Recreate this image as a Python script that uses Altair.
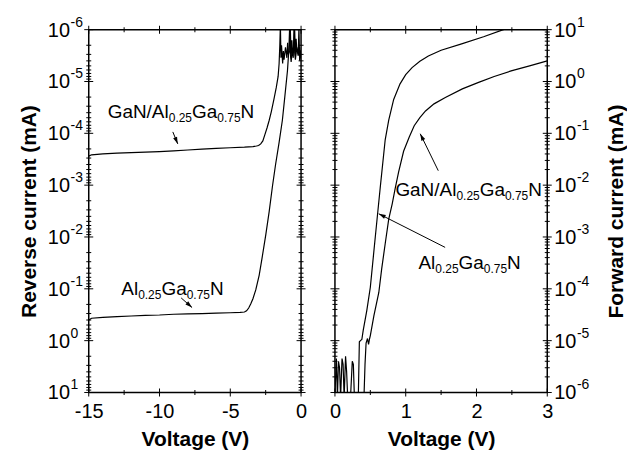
import math
import altair as alt
import pandas as pd

FONT = "Liberation Sans"
W, H = 213, 364

# ---------------- data ----------------
# Left panel: reverse bias
rev_gan_v = [-15.0, -14.8, -14.0, -13.0, -12.0, -11.0, -10.0, -9.0, -8.0, -7.0, -6.0, -5.0, -4.0, -3.4,
             -3.15, -3.0, -2.85, -2.7, -2.55, -2.4, -2.25, -2.1, -1.9, -1.75, -1.62, -1.55, -1.5, -1.46,
             -1.42, -1.38, -1.3, -1.25, -1.2, -1.1, -1.0, -0.95, -0.9, -0.8, -0.76, -0.7, -0.65, -0.6,
             -0.5, -0.45, -0.4, -0.35, -0.3, -0.2, -0.1, -0.05, 0.0]
rev_gan_i = [2.75e-4, 2.6e-4, 2.5e-4, 2.42e-4, 2.36e-4, 2.3e-4, 2.25e-4, 2.18e-4, 2.1e-4, 2.02e-4,
             1.96e-4, 1.9e-4, 1.85e-4, 1.8e-4, 1.76e-4, 1.72e-4, 1.6e-4, 1.4e-4, 1.05e-4, 7.8e-5,
             5.6e-5, 3.8e-5, 2.1e-5, 1.3e-5, 8.0e-6, 4.5e-6, 2.0e-6, 0.8e-6, 3.5e-6, 2.0e-6, 4.5e-6,
             2.6e-6, 3.8e-6, 2.2e-6, 3.5e-6, 1.8e-6, 3.0e-6, 2.6e-6, 0.9e-6, 3.6e-6, 1.6e-6, 2.8e-6,
             2.0e-6, 1.0e-6, 3.2e-6, 1.5e-6, 2.4e-6, 3.0e-6, 2.2e-6, 3.5e-6, 2.5e-6]
rev_al_v = [-15.0, -14.8, -14.0, -13.0, -12.0, -11.0, -10.0, -9.0, -8.0, -7.0, -6.0, -5.0, -4.3, -4.0,
            -3.85, -3.7, -3.55, -3.4, -3.2, -2.96, -2.75, -2.49, -2.25, -2.02, -1.8, -1.55, -1.32,
            -1.15, -0.96, -0.9, -0.85, -0.8, -0.75, -0.7, -0.62, -0.55, -0.5, -0.45, -0.4, -0.3,
            -0.2, -0.15, -0.1, 0.0]
rev_al_i = [0.40, 0.37, 0.355, 0.345, 0.335, 0.325, 0.32, 0.31, 0.305, 0.30, 0.295, 0.29, 0.285, 0.28,
            0.265, 0.235, 0.195, 0.155, 0.105, 0.055, 0.025, 9e-3, 3.2e-3, 1.05e-3, 4e-4, 1.5e-4,
            5.6e-5, 2e-5, 6.2e-6, 3.5e-6, 2.0e-6, 0.8e-6, 3.0e-6, 4.2e-6, 2.5e-6, 3.5e-6, 0.9e-6,
            2.8e-6, 3.8e-6, 2.2e-6, 3.2e-6, 0.9e-6, 4.0e-6, 3.0e-6]

# Right panel: forward bias
fwd_al_v = [0.0, 0.02, 0.035, 0.05, 0.065, 0.08, 0.1, 0.115, 0.13, 0.15, 0.165, 0.18, 0.22, 0.245,
            0.26, 0.275, 0.33, 0.345, 0.36, 0.38, 0.40, 0.45, 0.5, 0.57, 0.64, 0.71, 0.76, 0.83, 0.92,
            1.0, 1.09, 1.2, 1.32, 1.5, 1.79, 2.1, 2.38, 2.5]
fwd_al_i = [0.9e-6, 4.5e-6, 0.8e-6, 4.0e-6, 3.0e-6, 0.8e-6, 4.5e-6, 3.5e-6, 0.8e-6, 5.0e-6, 2.5e-6,
            0.8e-6, 0.8e-6, 4.0e-6, 3.5e-6, 0.8e-6, 0.8e-6, 9.5e-6, 1.0e-5, 1.05e-5, 1.6e-5, 3.8e-5,
            1.07e-4, 1.0e-3, 9e-3, 0.075, 0.18, 0.45, 0.9, 1.35, 1.85, 2.45, 3.1, 4.0, 5.3, 7.3, 10.0, 11.0]
fwd_gan_v = [0.41, 0.425, 0.44, 0.46, 0.475, 0.49, 0.5, 0.55, 0.62, 0.66, 0.71, 0.76, 0.81, 0.85,
             0.9, 0.97, 1.05, 1.12, 1.2, 1.28, 1.4, 1.56, 1.8, 2.03, 2.25, 2.49, 2.75, 3.0]
fwd_gan_i = [0.8e-6, 3.5e-6, 9.0e-6, 1.1e-5, 8.5e-6, 1.1e-5, 1.25e-5, 3.0e-5, 8.5e-5, 2.4e-4, 7.4e-4,
             2.2e-3, 4.4e-3, 8.5e-3, 0.018, 0.045, 0.085, 0.14, 0.2, 0.27, 0.37, 0.49, 0.72, 0.96,
             1.25, 1.6, 2.0, 2.5]

# annotation anchors (voltage, current)
lbl_gan = "GaN/Al0.25Ga0.75N"
lbl_al = "Al0.25Ga0.75N"
left_labels = [(lbl_gan, -13.66, 5.1e-5), (lbl_al, -12.70, 0.13)]
right_labels = [(lbl_gan, 0.854, 6.3e-3), (lbl_al, 1.18, 2.4e-4)]
left_arrows = [(-9.06, 9.4e-5, -8.71, 1.6e-4), (-8.47, 0.15, -7.70, 0.23)]
right_arrows = [(1.46, 0.019, 1.205, 0.098), (1.557, 6.3e-4, 0.619, 2.8e-3)]

decades = [1e-6, 1e-5, 1e-4, 1e-3, 1e-2, 1e-1, 1e0, 1e1]
exponents = ["-6", "-5", "-4", "-3", "-2", "-1", "0", "1"]
minor_log = [k * 10.0 ** e for e in range(-6, 1) for k in range(2, 10)]
left_xmaj = [-15, -10, -5, 0]
left_xmin = [-12.5, -7.5, -2.5]
right_xmaj = [0, 1, 2, 3]
right_xmin = [0.5, 1.5, 2.5]

# ---------------- helpers ----------------
AW = {'G': 0.778, 'a': 0.556, 'N': 0.722, '/': 0.278, 'A': 0.667, 'l': 0.222, '.': 0.278, '-': 0.333}


def tw(s, size):
    return sum(AW.get(c, 0.556) for c in s) * size


MAIN, SUB = 19, 12


def pieces(label):
    if label.startswith("GaN/"):
        return [("GaN/Al", 0), ("0.25", 1), ("Ga", 0), ("0.75", 1), ("N", 0)]
    return [("Al", 0), ("0.25", 1), ("Ga", 0), ("0.75", 1), ("N", 0)]


def text_rows(labels, span):
    rows = []
    for lab, v, i in labels:
        cum = 0.0
        for t, sub in pieces(lab):
            rows.append({"v": v + cum * span / W, "i": i, "t": t, "sub": sub})
            cum += tw(t, SUB if sub else MAIN)
    return pd.DataFrame(rows)


def panel(side):
    left = side == "left"
    if left:
        xdom, span = [-15, 0], 15.0
        xmaj, xmin = left_xmaj, left_xmin
        ys = alt.Scale(type="log", domain=[1e-6, 10], reverse=True, nice=False)
        series = [("GaN/AlGaN", rev_gan_v, rev_gan_i), ("AlGaN", rev_al_v, rev_al_i)]
        labels, arrows = left_labels, left_arrows
        ytitle = "Reverse current (mA)"
        yorient, titleX = "left", -59

        def pxx(v):
            return (v + 15) / 15 * W

        def pxy(i):
            return (math.log10(i) + 6) / 7 * H
    else:
        xdom, span = [0, 3], 3.0
        xmaj, xmin = right_xmaj, right_xmin
        ys = alt.Scale(type="log", domain=[1e-6, 10], nice=False)
        series = [("AlGaN", fwd_al_v, fwd_al_i), ("GaN/AlGaN", fwd_gan_v, fwd_gan_i)]
        labels, arrows = right_labels, right_arrows
        ytitle = "Forward current (mA)"
        yorient, titleX = "right", 69

        def pxx(v):
            return v / 3 * W

        def pxy(i):
            return (1 - math.log10(i)) / 7 * H

    xs = alt.Scale(domain=xdom, nice=False, zero=False, padding=0)

    rows = []
    for name, vv, ii in series:
        for v, i in zip(vv, ii):
            rows.append({"v": v, "i": i, "s": name})
    df = pd.DataFrame(rows)

    lines = alt.Chart(df).mark_line(color="black", strokeWidth=1.2, clip=True).encode(
        x=alt.X("v:Q", scale=xs, axis=alt.Axis(
            orient="bottom", values=xmaj, ticks=False, tickSize=0, domain=False, grid=False,
            labelExpr="'' + datum.value", labelFlush=False, labelFont=FONT, labelFontSize=20,
            labelColor="black", labelBaseline="alphabetic", labelPadding=25,
            title="Voltage (V)", titleFont=FONT, titleFontSize=21, titleFontWeight="bold",
            titleColor="black", titleBaseline="alphabetic", titleY=53, titleX=W / 2)),
        y=alt.Y("i:Q", scale=ys, axis=alt.Axis(
            orient=yorient, labels=False, ticks=False, tickSize=0, domain=False, grid=False,
            title=ytitle, titleFont=FONT, titleFontSize=21, titleFontWeight="bold",
            titleColor="black", titleAngle=270, titleX=titleX, titleY=H / 2,
            titleBaseline="middle", titleAlign="center")),
        detail="s:N",
    )

    tdf = text_rows(labels, span)
    main_txt = alt.Chart(tdf[tdf["sub"] == 0]).mark_text(
        align="left", baseline="alphabetic", font=FONT, fontSize=MAIN, color="black").encode(
        x=alt.X("v:Q", scale=xs, axis=None), y=alt.Y("i:Q", scale=ys, axis=None), text="t:N")
    sub_txt = alt.Chart(tdf[tdf["sub"] == 1]).mark_text(
        align="left", baseline="alphabetic", font=FONT, fontSize=SUB, dy=4, color="black").encode(
        x=alt.X("v:Q", scale=xs, axis=None), y=alt.Y("i:Q", scale=ys, axis=None), text="t:N")

    # arrow shafts
    adf_s = pd.DataFrame([{"v1": a[0], "i1": a[1], "v2": a[2], "i2": a[3]} for a in arrows])
    shafts = alt.Chart(adf_s).mark_rule(color="black", strokeWidth=1).encode(
        x=alt.X("v1:Q", scale=xs, axis=None), y=alt.Y("i1:Q", scale=ys, axis=None),
        x2="v2:Q", y2="i2:Q")

    # frame ticks, centred on each edge
    def yt(vals, xpix, w):
        return alt.Chart(pd.DataFrame({"tv": vals})).mark_tick(
            color="#000000", thickness=1, size=w, orient="horizontal", opacity=1).encode(
            y=alt.Y("tv:Q", scale=ys, axis=None), x=alt.value(xpix))

    def xt(vals, ypix, h):
        return alt.Chart(pd.DataFrame({"tv": vals})).mark_tick(
            color="#000000", thickness=1, size=h, orient="vertical", opacity=1).encode(
            x=alt.X("tv:Q", scale=xs, axis=None), y=alt.value(ypix))

    tick_layers = [yt(decades, 0, 9), yt(minor_log, 0, 5), yt(decades, W, 9), yt(minor_log, W, 5),
                   xt(xmaj, 0, 8), xt(xmin, 0, 5), xt(xmaj, H, 8), xt(xmin, H, 5)]

    arows = []
    for v1, i1, v2, i2 in arrows:
        dx, dy = pxx(v2) - pxx(v1), pxy(i2) - pxy(i1)
        ang = math.degrees(math.atan2(dx, -dy)) % 360
        arows.append({"v2": v2, "i2": i2, "ang": ang})
    adf = pd.DataFrame(arows)
    heads = alt.Chart(adf).mark_point(
        shape="M0,0L-0.6,2L0.6,2Z", filled=True, color="black", opacity=1, size=49).encode(
        x=alt.X("v2:Q", scale=xs, axis=None), y=alt.Y("i2:Q", scale=ys, axis=None),
        angle=alt.Angle("ang:Q", scale=None))

    # y tick labels: "10" with superscript exponent
    ldf = pd.DataFrame({"val": decades, "ex": exponents})
    if left:
        x10, xex = -41, -41 + tw("10", 20) + 0.5
    else:
        x10, xex = W + 7, W + 7 + tw("10", 20) + 0.5
    ten = alt.Chart(ldf).mark_text(align="left", baseline="alphabetic",
                                   font=FONT, fontSize=20, dy=7, color="black").encode(
        x=alt.value(x10), y=alt.Y("val:Q", scale=ys, axis=None), text=alt.value("10"))
    exp = alt.Chart(ldf).mark_text(align="left", baseline="alphabetic",
                                   font=FONT, fontSize=14, dy=-3, color="black").encode(
        x=alt.value(xex), y=alt.Y("val:Q", scale=ys, axis=None), text="ex:N")

    return alt.layer(lines, main_txt, sub_txt, shafts, heads, ten, exp, *tick_layers).resolve_axis(
        x="independent", y="independent").properties(width=W, height=H)


chart = alt.hconcat(panel("left"), panel("right"), spacing=34, bounds="flush").configure_view(
    stroke="black", strokeWidth=1.5).properties(
    padding={"left": 10, "top": 6, "right": 0, "bottom": 0})

chart.save("out.html", embed_options={"renderer": "svg", "actions": False})
